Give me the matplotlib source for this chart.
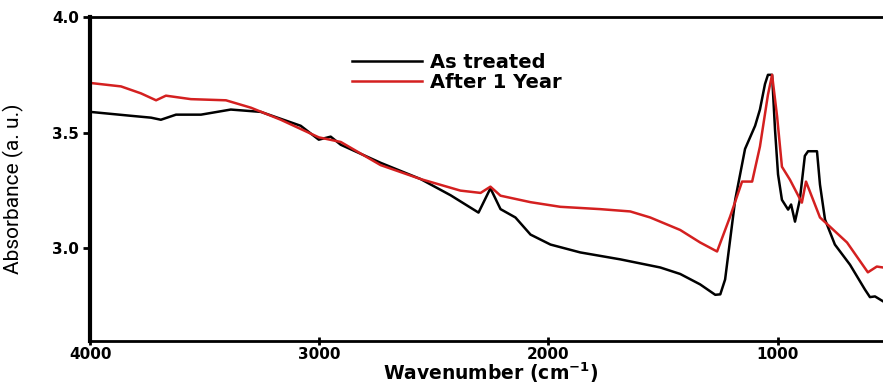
import numpy as np
import matplotlib
matplotlib.use("Agg")
import matplotlib.pyplot as plt

# FTIR spectra (wavenumber cm-1, absorbance a.u.)
wn_treated = [4000, 3821, 3734, 3691, 3625, 3516, 3386, 3255, 3081, 3002, 2950, 2906,
              2732, 2558, 2427, 2362, 2305, 2253, 2209, 2144, 2078, 1991, 1861, 1686,
              1512, 1425, 1338, 1294, 1272, 1250, 1229, 1185, 1142, 1098, 1077, 1055,
              1042, 1024, 1011, 998, 981, 954, 941, 924, 903, 881, 867, 828, 815, 793,
              750, 684, 619, 597, 575, 540]
abs_treated = [3.59, 3.573, 3.565, 3.556, 3.578, 3.578, 3.60, 3.59, 3.53, 3.47, 3.483, 3.448,
               3.37, 3.30, 3.23, 3.19, 3.155, 3.26, 3.17, 3.134, 3.06, 3.017, 2.983, 2.953,
               2.918, 2.89, 2.845, 2.815, 2.80, 2.802, 2.866, 3.21, 3.43, 3.53, 3.60, 3.71,
               3.75, 3.75, 3.51, 3.32, 3.21, 3.168, 3.19, 3.116, 3.21, 3.40, 3.42, 3.42, 3.276, 3.125,
               3.017, 2.93, 2.823, 2.79, 2.793, 2.772]

wn_year = [4000, 3865, 3778, 3712, 3669, 3560, 3407, 3298, 3168, 3002, 2906, 2732,
           2558, 2384, 2296, 2253, 2209, 2078, 1948, 1774, 1643, 1556, 1425, 1338,
           1264, 1207, 1155, 1111, 1077, 1042, 1024, 1002, 981, 946, 894, 876, 815,
           697, 606, 567, 540]
abs_year = [3.715, 3.70, 3.67, 3.64, 3.66, 3.645, 3.64, 3.608, 3.556, 3.48, 3.46, 3.36,
            3.30, 3.25, 3.24, 3.267, 3.228, 3.20, 3.18, 3.17, 3.16, 3.134, 3.08, 3.026,
            2.987, 3.138, 3.289, 3.289, 3.44, 3.664, 3.75, 3.569, 3.353, 3.297, 3.198, 3.289, 3.134,
            3.026, 2.897, 2.922, 2.918]

x_ticks = [4000, 3000, 2000, 1000]
y_ticks = [3.0, 3.5, 4.0]

fig = plt.figure(figsize=(8.83, 3.85), dpi=100)
ax = fig.add_axes([0.102, 0.114, 0.898, 0.842])

ax.plot(wn_treated, abs_treated, color="black", lw=1.8, label="As treated")
ax.plot(wn_year, abs_year, color="#d42020", lw=1.8, label="After 1 Year")

ax.set_xlim(4000, 540)
ax.set_ylim(2.6, 4.0)
ax.set_xticks(x_ticks)
ax.set_yticks(y_ticks)
ax.set_yticklabels([f"{v:.1f}" for v in y_ticks])

for lab in ax.get_xticklabels() + ax.get_yticklabels():
    lab.set_fontweight("bold")
    lab.set_fontsize(11)

ax.spines["right"].set_visible(False)
ax.spines["left"].set_linewidth(3)
ax.spines["bottom"].set_linewidth(2)
ax.spines["top"].set_linewidth(2)
ax.tick_params(axis="y", direction="out", length=5, width=2, pad=3)
ax.tick_params(axis="x", direction="inout", length=6, width=2, pad=1)

ax.set_xlabel("Wavenumber (cm$^{\\mathbf{-1}}$)", fontsize=13.5, fontweight="bold",
              va="baseline")
ax.xaxis.set_label_coords(0.505, -0.12)
ax.set_ylabel("Absorbance (a. u.)", fontsize=15, family=["Roboto", "DejaVu Sans"])
ax.yaxis.set_label_coords(-0.083, 0.47)

leg = ax.legend(loc="center left", bbox_to_anchor=(0.33, 0.83), frameon=False,
                prop={"weight": "bold", "size": 14}, handlelength=3.6,
                handletextpad=0.4, labelspacing=0.05, borderpad=0, borderaxespad=0)

fig.savefig("out.png", dpi=100)
